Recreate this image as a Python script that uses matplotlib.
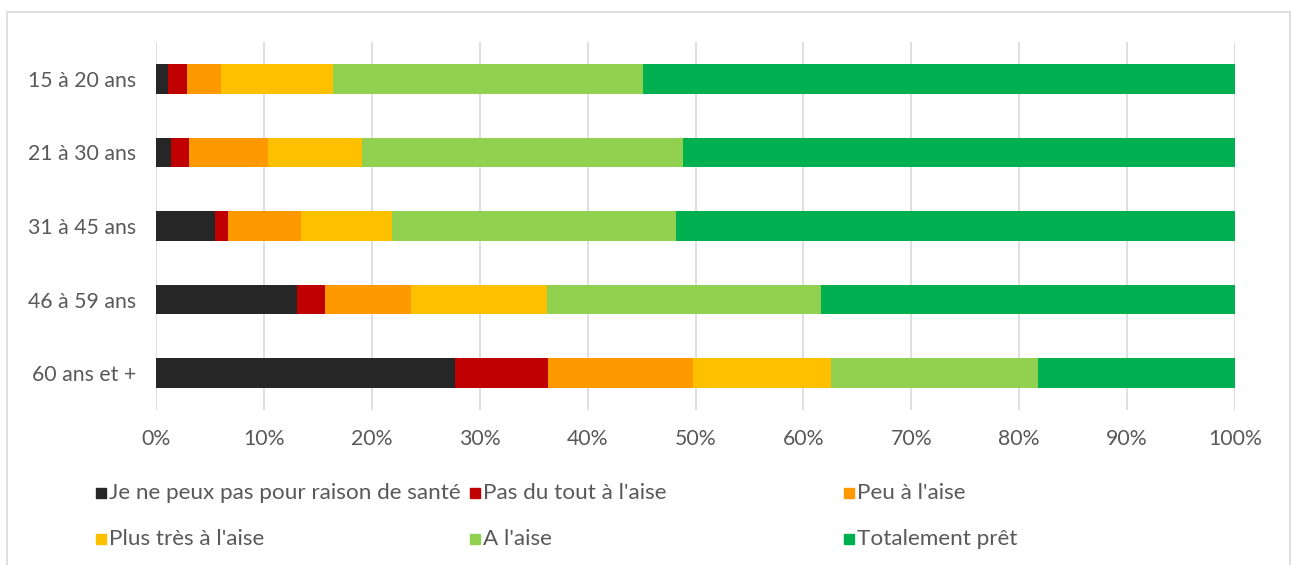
import matplotlib.pyplot as plt
from matplotlib.patches import Rectangle
from matplotlib.ticker import PercentFormatter

plt.rcParams['font.family'] = ['Lato', 'DejaVu Sans']

# age groups, top to bottom
ages = ['15 à 20 ans', '21 à 30 ans', '31 à 45 ans', '46 à 59 ans', '60 ans et +']

# shares in % per answer
sante = [1.1, 1.4, 5.5, 13.1, 27.7]
pas_du_tout = [1.8, 1.65, 1.2, 2.6, 8.6]
peu = [3.1, 7.35, 6.7, 7.9, 13.5]
plus_tres = [10.4, 8.7, 8.5, 12.6, 12.8]
a_l_aise = [28.7, 29.7, 26.3, 25.4, 19.1]
totalement = [54.9, 51.2, 51.8, 38.4, 18.3]

series = [sante, pas_du_tout, peu, plus_tres, a_l_aise, totalement]
noms = ['Je ne peux pas pour raison de santé', "Pas du tout à l'aise", "Peu à l'aise",
        "Plus très à l'aise", "A l'aise", 'Totalement prêt']
couleurs = ['#262626', '#C00000', '#FF9900', '#FFC000', '#92D050', '#00B050']

fig = plt.figure(figsize=(12.92, 5.65), dpi=100)
W, H = 1292, 565
ax = fig.add_axes([156 / W, 1 - 410 / H, (1235 - 156) / W, (410 - 42) / H])

ypos = list(range(len(ages)))
gauche = [0] * len(ages)
for vals, nom, c in zip(series, noms, couleurs):
    ax.barh(ypos, vals, left=gauche, height=0.4, color=c, label=nom, linewidth=0, zorder=3)
    gauche = [g + v for g, v in zip(gauche, vals)]

ax.set_xlim(0, 100)
ax.set_ylim(len(ages) - 0.5, -0.5)
ax.set_yticks(ypos)
ax.set_yticklabels(ages)
ax.set_xticks(range(0, 101, 10))
ax.xaxis.set_major_formatter(PercentFormatter(decimals=0))
ax.grid(axis='x', color='#d9d9d9', linewidth=1.2, zorder=0)
for s in ax.spines.values():
    s.set_visible(False)
ax.tick_params(length=0, labelsize=15.3, colors='#595959', pad=14)
ax.tick_params(axis='y', pad=14)

# legend drawn by hand, 3 columns x 2 rows
xs = [96, 470, 844]
ys = [493, 539]
for i, (nom, c) in enumerate(zip(noms, couleurs)):
    x = xs[i % 3]
    y = ys[i // 3]
    fig.patches.append(Rectangle((x / W, 1 - (y + 5) / H), 10 / W, 10 / H,
                                 transform=fig.transFigure, color=c))
    fig.text((x + 13) / W, 1 - y / H, nom, fontsize=16.2, color='#595959', va='center')

# chart frame
fig.patches.append(Rectangle((7 / W, -0.05), (1290 - 7) / W, 1.05 - 12 / H,
                             transform=fig.transFigure, fill=False,
                             edgecolor='#d9d9d9', linewidth=1.2))

fig.savefig('out.png', dpi=100)
